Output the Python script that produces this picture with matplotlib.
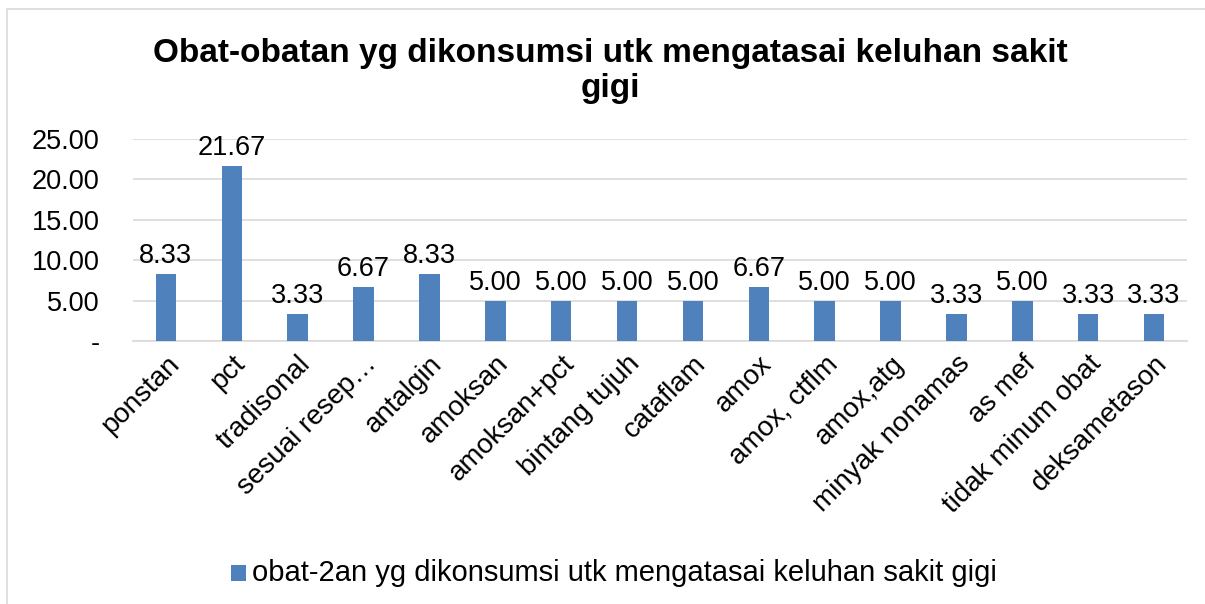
import numpy as np
import matplotlib.pyplot as plt
from matplotlib.patches import Rectangle

plt.rcParams['font.family'] = ['Liberation Sans', 'DejaVu Sans']

categories = ['ponstan', 'pct', 'tradisonal', 'sesuai resep\u2026', 'antalgin', 'amoksan',
              'amoksan+pct', 'bintang tujuh', 'cataflam', 'amox', 'amox, ctflm', 'amox,atg',
              'minyak nonamas', 'as mef', 'tidak minum obat', 'deksametason']
values = [8.33, 21.67, 3.33, 6.67, 8.33, 5.00, 5.00, 5.00, 5.00, 6.67, 5.00, 5.00,
          3.33, 5.00, 3.33, 3.33]
yticks = [0, 5, 10, 15, 20, 25]
series_name = 'obat-2an yg dikonsumsi utk mengatasai keluhan sakit gigi'
title = 'Obat-obatan yg dikonsumsi utk mengatasai keluhan sakit\ngigi'

W, H = 1205, 604
fig = plt.figure(figsize=(W/100, H/100), dpi=100)

# chart frame
fig.patches.append(Rectangle((7/W, -0.1), 1.2, (H-9)/H + 0.1, transform=fig.transFigure,
                             fill=False, edgecolor='#d9d9d9', linewidth=1.2))

ax = fig.add_axes([133/W, (H-341)/H, (1187-133)/W, (341-139)/H])
x = np.arange(len(categories))
bars = ax.bar(x, values, width=0.31, color='#4f81bd', zorder=3)
for xi, v in zip(x, values):
    ax.text(xi, v + 0.6, f'{v:.2f}', ha='center', va='bottom', fontsize=19.5, color='black')

ax.set_xlim(-0.5, len(categories) - 0.5)
ax.set_ylim(0, 25)
ax.set_yticks(yticks)
ax.set_yticklabels(['-' if t == 0 else f'{t:.2f}' for t in yticks], fontsize=19.5)
ax.set_xticks(x)
ax.set_xticklabels(categories, rotation=45, ha='right', rotation_mode='anchor', fontsize=20)
ax.tick_params(axis='both', length=0, pad=7)
ax.tick_params(axis='y', pad=24)
ax.grid(axis='y', color='#d9d9d9', linewidth=1.2, zorder=0)
for s in ['top', 'left', 'right']:
    ax.spines[s].set_visible(False)
ax.spines['bottom'].set_color('#d9d9d9')
ax.spines['bottom'].set_linewidth(1.2)

fig.text(610/W, 1 - 71/H, title, ha='center', va='center', fontsize=24, fontweight='bold',
         linespacing=1.2)

fig.patches.append(Rectangle((231/W, 1 - 581/H), 15/W, 16/H, transform=fig.transFigure,
                             facecolor='#4f81bd', edgecolor='none'))
fig.text(252/W, 1 - 573/H, series_name, ha='left', va='center', fontsize=21)

fig.savefig('out.png', dpi=100)
